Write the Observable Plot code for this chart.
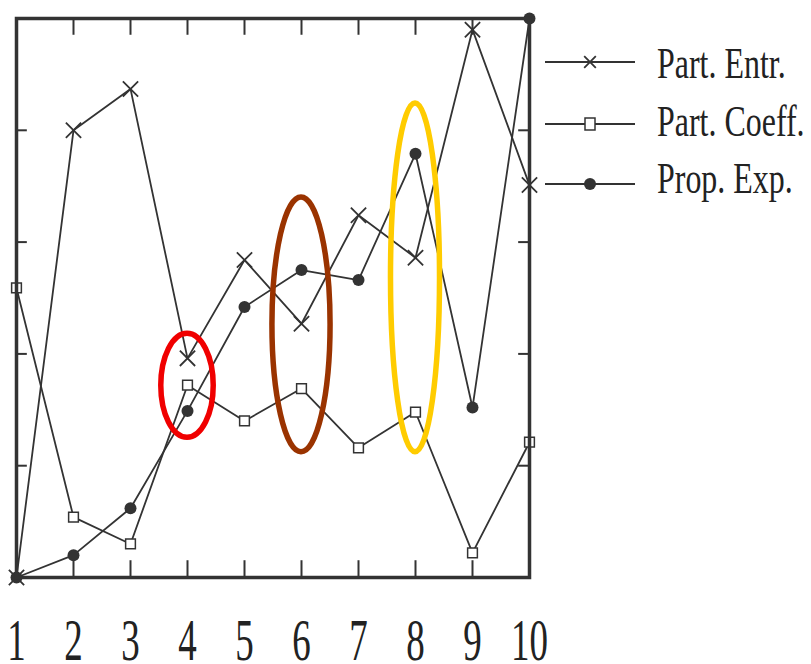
<!DOCTYPE html>
<html><head><meta charset="utf-8">
<script src="https://cdn.jsdelivr.net/npm/d3@7"></script>
<script src="https://cdn.jsdelivr.net/npm/@observablehq/plot@0.6"></script>
<style>
body{margin:0;background:#fff}
#wrap{position:relative;width:811px;height:664px;overflow:hidden}
#wrap svg{position:absolute;left:0;top:0}
</style>
</head><body><div id="wrap"></div>
<script>
// ---- data ----
const steps = [1, 2, 3, 4, 5, 6, 7, 8, 9, 10];
const partEntr = [0, 4.0, 4.37, 1.96, 2.84, 2.27, 3.24, 2.86, 4.9, 3.51];
const partCoeff = [2.59, 0.54, 0.30, 1.72, 1.40, 1.69, 1.16, 1.48, 0.22, 1.21];
const propExp = [0, 0.20, 0.62, 1.49, 2.42, 2.75, 2.66, 3.79, 1.52, 5.0];
const seriesNames = ["Part. Entr.", "Part. Coeff.", "Prop. Exp."];
const xTicks = [1, 2, 3, 4, 5, 6, 7, 8, 9, 10];
const yTicks = [1, 2, 3, 4];
// highlighted groups (step, lower value, upper value, half-width in steps)
const hlStep = [4, 6, 8];
const hlLo = [1.25, 1.12, 1.12];
const hlHi = [2.18, 3.40, 4.24];
const hlHalf = [0.46, 0.51, 0.43];
const hlColor = ["#f00000", "#9a3300", "#ffcc00"];

const rows = steps.map((s, i) => ({step: s, entr: partEntr[i], coeff: partCoeff[i], exp: propExp[i]}));
const ink = "#333";

const plot = Plot.plot({
  width: 811, height: 664,
  marginLeft: 16, marginRight: 282, marginTop: 18, marginBottom: 87,
  x: {domain: [1, 10], axis: null},
  y: {domain: [0, 5], axis: null},
  style: {background: "transparent", fontFamily: "'Liberation Serif', serif", overflow: "visible"},
  marks: [
    Plot.ruleX(xTicks.slice(1, -1), {x: d => d, y1: 0, y2: 0.15, stroke: ink, strokeWidth: 2}),
    Plot.ruleX(xTicks.slice(1, -1), {x: d => d, y1: 4.85, y2: 5, stroke: ink, strokeWidth: 2}),
    Plot.ruleY(yTicks, {y: d => d, x1: 1, x2: 1.19, stroke: ink, strokeWidth: 2}),
    Plot.ruleY(yTicks, {y: d => d, x1: 9.81, x2: 10, stroke: ink, strokeWidth: 2}),
    Plot.line(rows, {x: "step", y: "entr", stroke: ink, strokeWidth: 1.8}),
    Plot.line(rows, {x: "step", y: "coeff", stroke: ink, strokeWidth: 1.8}),
    Plot.line(rows, {x: "step", y: "exp", stroke: ink, strokeWidth: 1.8}),
    Plot.dot(rows, {x: "step", y: "coeff", symbol: "square", r: 5.5, fill: "white", stroke: ink, strokeWidth: 1.5}),
    Plot.dot(rows, {x: "step", y: "entr", symbol: "times", r: 7, stroke: ink, strokeWidth: 1.8}),
    Plot.dot(rows, {x: "step", y: "exp", symbol: "circle", r: 6, fill: ink}),
    Plot.frame({stroke: ink, strokeWidth: 3.5}),
    Plot.text(xTicks, {x: d => d, y: 0, text: d => String(d), dy: 82, lineAnchor: "bottom",
      fontSize: 56, fill: "#222"})
  ]
});

const wrap = document.getElementById("wrap");
wrap.appendChild(plot);

// condense tick label glyphs horizontally (taller, narrower digits as in the scan)
plot.querySelectorAll("text").forEach(t => {
  const tr = t.getAttribute("transform");
  if (tr) t.setAttribute("transform", tr + " scale(0.66,1.05)");
  else {
    const x = +t.getAttribute("x") || 0, y = +t.getAttribute("y") || 0;
    t.removeAttribute("x"); t.removeAttribute("y");
    t.setAttribute("transform", `translate(${x},${y}) scale(0.66,1.05)`);
  }
});

// highlight ellipses positioned through the plot's scales
const sx = plot.scale("x"), sy = plot.scale("y");
const svgNS = "http://www.w3.org/2000/svg";
hlStep.forEach((s, i) => {
  const e = document.createElementNS(svgNS, "ellipse");
  const cx = sx.apply(s), cy = sy.apply((hlLo[i] + hlHi[i]) / 2);
  e.setAttribute("cx", cx);
  e.setAttribute("cy", cy);
  e.setAttribute("rx", sx.apply(s + hlHalf[i]) - cx);
  e.setAttribute("ry", Math.abs(sy.apply(hlHi[i]) - sy.apply(hlLo[i])) / 2);
  e.setAttribute("fill", "none");
  e.setAttribute("stroke", hlColor[i]);
  e.setAttribute("stroke-width", 5.5);
  plot.appendChild(e);
});

// legend
const leg = d3.select(wrap).append("svg").attr("width", 811).attr("height", 664);
const lineY = [62, 124, 184];
const baseY = [78, 136, 193];
const symbols = ["times", "square", "circle"];
seriesNames.forEach((name, i) => {
  const g = leg.append("g");
  g.append("line").attr("x1", 545).attr("x2", 635).attr("y1", lineY[i]).attr("y2", lineY[i])
    .attr("stroke", ink).attr("stroke-width", 1.8);
  if (symbols[i] === "times") {
    g.append("path").attr("d", d3.symbol(d3.symbolTimes, 90)()).attr("transform", `translate(590,${lineY[i]})`)
      .attr("fill", "none").attr("stroke", ink).attr("stroke-width", 1.8);
  } else if (symbols[i] === "square") {
    g.append("rect").attr("x", 585).attr("y", lineY[i] - 6).attr("width", 10).attr("height", 12)
      .attr("fill", "white").attr("stroke", ink).attr("stroke-width", 1.5);
  } else {
    g.append("circle").attr("cx", 590).attr("cy", lineY[i]).attr("r", 6).attr("fill", ink);
  }
  g.append("text").attr("transform", `translate(657,${baseY[i]}) scale(0.71,1)`)
    .attr("font-family", "'Liberation Serif', serif").attr("font-size", 45).attr("fill", "#222")
    .text(name);
});
</script>
</body></html>
